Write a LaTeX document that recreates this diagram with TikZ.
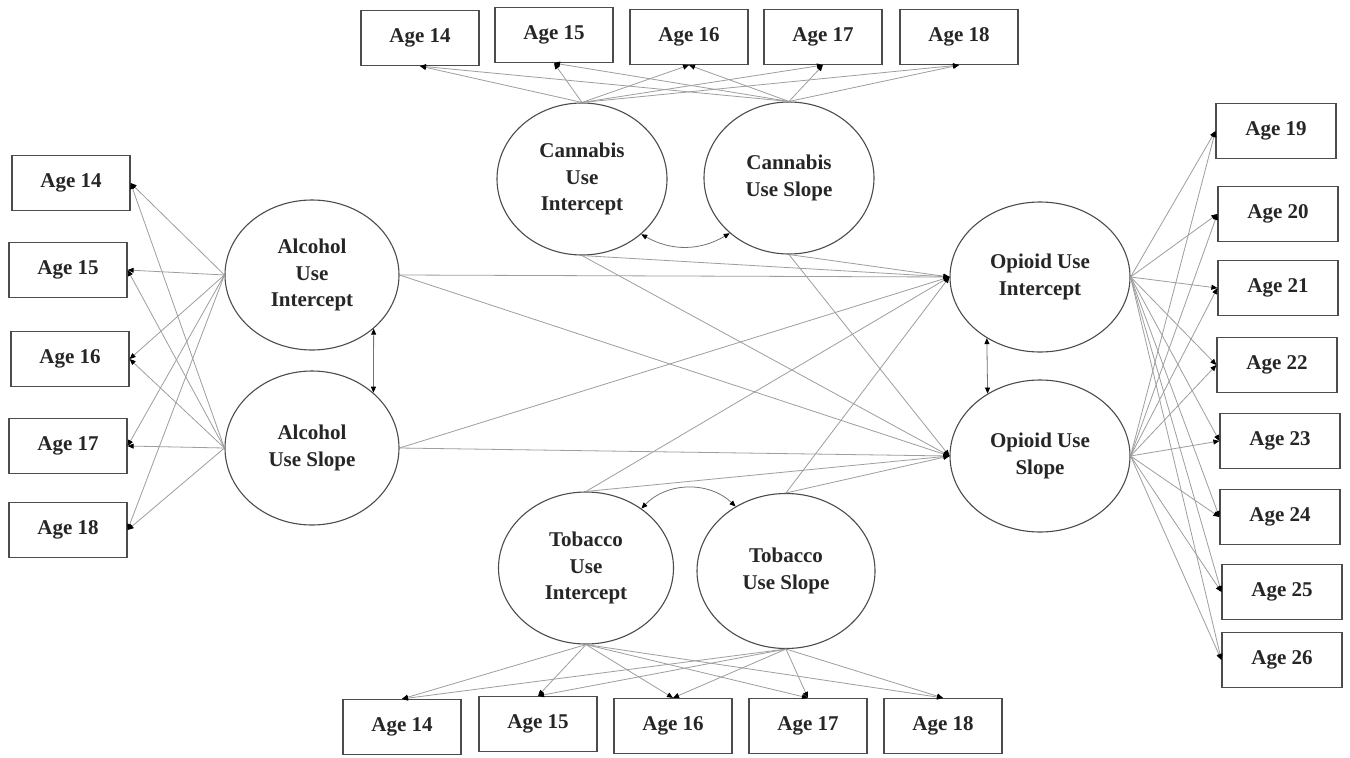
\documentclass[tikz,border=0pt]{standalone}
\usepackage{fontspec}
\setmainfont{Liberation Serif}
\usetikzlibrary{shapes.geometric,arrows.meta}
\begin{document}
\begin{tikzpicture}[x=1pt,y=-1pt,
  every node/.style={font=\fontsize{21}{26.5}\selectfont\bfseries, text=black!85},
  obs/.style={draw=black!70, line width=1.2pt, rectangle, minimum width=118pt, minimum height=55pt, inner sep=0pt},
  lat/.style={draw=black!70, line width=1.1pt, ellipse, inner sep=0pt, align=center},
  pth/.style={draw=black!38, line width=0.8pt, -{Triangle[length=6pt,width=5pt,color=black]}},
  cov/.style={draw=black!55, line width=0.8pt, {Triangle[length=6pt,width=5pt,color=black]}-{Triangle[length=6pt,width=5pt,color=black]}}]
\useasboundingbox[fill=white] (0,0) rectangle (1350,758);

% Cannabis indicators (top)
\node[obs] (c14) at (420,38) {Age 14};
\node[obs] (c15) at (554,35) {Age 15};
\node[obs] (c16) at (689,37) {Age 16};
\node[obs] (c17) at (823,37) {Age 17};
\node[obs] (c18) at (959,37) {Age 18};

% Alcohol indicators (left)
\node[obs] (a14) at (71,183) {Age 14};
\node[obs] (a15) at (68,270) {Age 15};
\node[obs] (a16) at (70,359) {Age 16};
\node[obs] (a17) at (68,446) {Age 17};
\node[obs] (a18) at (68,530) {Age 18};

% Opioid indicators (right)
\node[obs, minimum width=120pt] (r19) at (1276,131) {Age 19};
\node[obs, minimum width=120pt] (r20) at (1278,214) {Age 20};
\node[obs, minimum width=120pt] (r21) at (1278,288) {Age 21};
\node[obs, minimum width=120pt] (r22) at (1277,365) {Age 22};
\node[obs, minimum width=120pt] (r23) at (1280,441) {Age 23};
\node[obs, minimum width=120pt] (r24) at (1280,517) {Age 24};
\node[obs, minimum width=120pt] (r25) at (1282,592) {Age 25};
\node[obs, minimum width=120pt] (r26) at (1282,660) {Age 26};

% Tobacco indicators (bottom)
\node[obs] (t14) at (402,727) {Age 14};
\node[obs] (t15) at (538,724) {Age 15};
\node[obs] (t16) at (673,726) {Age 16};
\node[obs] (t17) at (808,726) {Age 17};
\node[obs] (t18) at (943,726) {Age 18};

% Latent factors
\node[lat, minimum width=174pt, minimum height=150pt] (ai) at (312,275) {Alcohol\\Use\\Intercept};
\node[lat, minimum width=174pt, minimum height=154pt] (as) at (312,448) {Alcohol\\Use Slope};
\node[lat, minimum width=170pt, minimum height=152pt] (ci) at (582,179) {Cannabis\\Use\\Intercept};
\node[lat, minimum width=170pt, minimum height=152pt] (cs) at (789,178) {Cannabis\\Use Slope};
\node[lat, minimum width=180pt, minimum height=150pt] (oi) at (1040,277) {Opioid Use\\Intercept};
\node[lat, minimum width=180pt, minimum height=152pt] (os) at (1040,456) {Opioid Use\\Slope};
\node[lat, minimum width=175pt, minimum height=152pt] (ti) at (586,568) {Tobacco\\Use\\Intercept};
\node[lat, minimum width=178pt, minimum height=155pt] (ts) at (786,571) {Tobacco\\Use Slope};

% Loadings
\foreach \b in {a14,a15,a16,a17,a18}{
  \draw[pth] (ai.west) -- (\b.east);
  \draw[pth] (as.west) -- (\b.east);
}
\foreach \b in {c14,c15,c16,c17,c18}{
  \draw[pth] (ci.north) -- (\b.south);
  \draw[pth] (cs.north) -- (\b.south);
}
\foreach \b in {t14,t15,t16,t17,t18}{
  \draw[pth] (ti.south) -- (\b.north);
  \draw[pth] (ts.south) -- (\b.north);
}
\foreach \b in {r19,r20,r21,r22,r23,r24,r25,r26}{
  \draw[pth] (oi.east) -- (\b.west);
  \draw[pth] (os.east) -- (\b.west);
}

% Structural paths
\draw[pth] (ai.east) -- (oi.west);
\draw[pth] (ai.east) -- (os.west);
\draw[pth] (as.east) -- (oi.west);
\draw[pth] (as.east) -- (os.west);
\draw[pth] (ci.south) -- (oi.west);
\draw[pth] (ci.south) -- (os.west);
\draw[pth] (cs.south) -- (oi.west);
\draw[pth] (cs.south) -- (os.west);
\draw[pth] (ti.north) -- (oi.west);
\draw[pth] (ti.north) -- (os.west);
\draw[pth] (ts.north) -- (oi.west);
\draw[pth] (ts.north) -- (os.west);

% Covariances
\draw[cov] (ai.-41.3) -- (as.42);
\draw[cov] (oi.-131.2) -- (os.130.8);
\draw[cov] (ci.-43) to[bend right=30] (cs.-137);
\draw[cov] (ti.47) to[bend left=45] (ts.128);
\end{tikzpicture}
\end{document}
